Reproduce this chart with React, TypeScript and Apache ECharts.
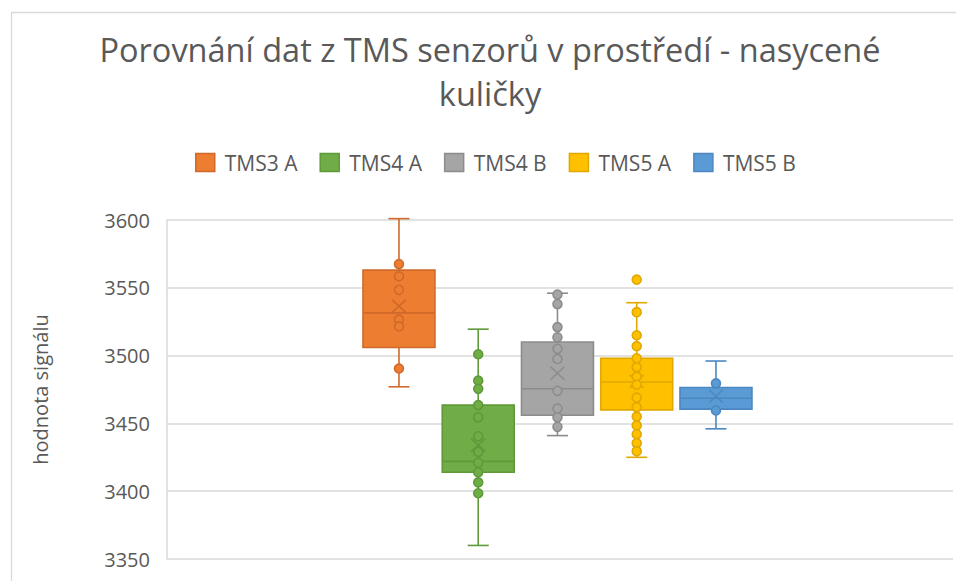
import React, { useEffect, useRef } from "react";
import * as echarts from "echarts";

const seriesNames = ["TMS3 A", "TMS4 A", "TMS4 B", "TMS5 A", "TMS5 B"];
const fillColors = ["#ED7D31", "#70AD47", "#A5A5A5", "#FFC000", "#5B9BD5"];
const darkColors = ["#D0692A", "#5E9A3A", "#8C8C8C", "#E0A800", "#4B87C1"];

// [min, Q1, median, Q3, max]
const boxStats = [
  [3477, 3506, 3531.5, 3563, 3601],
  [3360, 3414, 3422, 3463.5, 3519.5],
  [3441, 3456, 3475.5, 3510, 3546],
  [3425, 3460, 3480.5, 3498, 3539],
  [3446, 3460.5, 3468.5, 3476.5, 3496],
];
const means = [3536.5, 3434, 3487, 3481, 3470];

// visible inner points and outliers
const pointsTMS3A = [3567.5, 3558.5, 3548.5, 3526.5, 3521.5, 3490.5];
const pointsTMS4A = [3501, 3481.5, 3475.5, 3463.5, 3454.5, 3440.5, 3429, 3421, 3414, 3406.5, 3398.5];
const pointsTMS4B = [3545, 3538, 3521, 3513.5, 3505, 3497.5, 3474, 3461, 3454.5, 3447.5];
const pointsTMS5A = [3556, 3532, 3515, 3507, 3498, 3491.5, 3484.5, 3478.5, 3469, 3462, 3455, 3448.5, 3442, 3435.5, 3429.5];
const pointsTMS5B = [3479.5, 3459.5];
const pointSets = [pointsTMS3A, pointsTMS4A, pointsTMS4B, pointsTMS5A, pointsTMS5B];

const yTicks = { min: 3350, max: 3600, interval: 50 };
const titleText = "Porovnání dat z TMS senzorů v prostředí - nasycené\nkuličky";
const yAxisName = "hodnota signálu";

const BOX_W = 0.908;
const FONT = "'Open Sans', 'Noto Sans', sans-serif";
const TEXT_COLOR = "#595959";

export default function App() {
  const ref = useRef<HTMLDivElement>(null);

  useEffect(() => {
    document.body.style.margin = "0";
    if (!ref.current) return;
    const chart = echarts.init(ref.current, null, { renderer: "svg" });

    const boxSeries = seriesNames.map((name, i) => ({
      name,
      type: "custom",
      z: 2,
      encode: { x: 0, y: [1, 2, 3, 4, 5, 6] },
      data: [[i, ...boxStats[i], means[i]]],
      renderItem: (params: any, api: any) => {
        const x = api.value(0);
        const pMin = api.coord([x, api.value(1)]);
        const pQ1 = api.coord([x, api.value(2)]);
        const pMed = api.coord([x, api.value(3)]);
        const pQ3 = api.coord([x, api.value(4)]);
        const pMax = api.coord([x, api.value(5)]);
        const pMean = api.coord([x, api.value(6)]);
        const half = api.size([BOX_W, 0])[0] / 2;
        const cx = pMax[0];
        const cap = 10.5;
        const stroke = darkColors[i];
        const ls = { stroke, lineWidth: 1.6, fill: "none" };
        return {
          type: "group",
          children: [
            { type: "line", shape: { x1: cx, y1: pMax[1], x2: cx, y2: pQ3[1] }, style: ls },
            { type: "line", shape: { x1: cx, y1: pQ1[1], x2: cx, y2: pMin[1] }, style: ls },
            { type: "line", shape: { x1: cx - cap, y1: pMax[1], x2: cx + cap, y2: pMax[1] }, style: ls },
            { type: "line", shape: { x1: cx - cap, y1: pMin[1], x2: cx + cap, y2: pMin[1] }, style: ls },
            {
              type: "rect",
              shape: { x: cx - half, y: pQ3[1], width: half * 2, height: pQ1[1] - pQ3[1] },
              style: { fill: fillColors[i], stroke, lineWidth: 1.6 },
            },
            { type: "line", shape: { x1: cx - half, y1: pMed[1], x2: cx + half, y2: pMed[1] }, style: ls },
            { type: "line", z2: 20, shape: { x1: cx - 7, y1: pMean[1] - 6.5, x2: cx + 7, y2: pMean[1] + 6.5 }, style: ls },
            { type: "line", z2: 20, shape: { x1: cx - 7, y1: pMean[1] + 6.5, x2: cx + 7, y2: pMean[1] - 6.5 }, style: ls },
          ],
        };
      },
    }));

    const pointSeries = seriesNames.map((name, i) => ({
      name,
      type: "scatter",
      z: 3,
      symbol: "circle",
      symbolSize: 9,
      data: pointSets[i].map((v) => [i, v]),
      itemStyle: { color: fillColors[i], borderColor: darkColors[i], borderWidth: 1.6, opacity: 1 },
      emphasis: { disabled: true },
    }));

    chart.setOption({
      animation: false,
      backgroundColor: "#ffffff",
      title: {
        text: titleText,
        left: 490,
        textAlign: "center",
        top: 27,
        padding: 0,
        textStyle: {
          fontFamily: FONT,
          fontSize: 32.5,
          fontWeight: "normal",
          color: TEXT_COLOR,
          lineHeight: 44,
        },
      },
      legend: {
        left: 195,
        top: 152,
        padding: 0,
        itemWidth: 19,
        itemHeight: 18,
        itemGap: 22,
        textStyle: { fontFamily: FONT, fontSize: 21, color: TEXT_COLOR, lineHeight: 18, padding: [0, 0, 0, 5] },
        data: seriesNames.map((name, i) => ({
          name,
          icon: "rect",
          itemStyle: { color: fillColors[i], borderColor: darkColors[i], borderWidth: 1.5 },
        })),
      },
      graphic: [
        {
          type: "rect",
          z: -10,
          silent: true,
          shape: { x: 11.5, y: 12.5, width: 2000, height: 2000 },
          style: { fill: "none", stroke: "#D9D9D9", lineWidth: 1.3 },
        },
      ],
      grid: { left: 167, top: 220, right: 3, bottom: 22, containLabel: false },
      xAxis: {
        type: "value",
        show: false,
        min: -2.927,
        max: 6.991,
        splitLine: { show: false },
      },
      yAxis: {
        type: "value",
        min: yTicks.min,
        max: yTicks.max,
        interval: yTicks.interval,
        name: yAxisName,
        nameLocation: "middle",
        nameGap: 117,
        nameTextStyle: { fontFamily: FONT, fontSize: 20, color: TEXT_COLOR },
        axisLine: { show: true, onZero: false, lineStyle: { color: "#D9D9D9", width: 1.5 } },
        axisTick: { show: false },
        axisLabel: {
          fontFamily: FONT,
          fontSize: 20,
          color: TEXT_COLOR,
          margin: 17,
          formatter: (v: number) => String(v),
        },
        splitLine: { show: true, lineStyle: { color: "#D9D9D9", width: 1.5 } },
      },
      series: [...boxSeries, ...pointSeries],
    });

    return () => {
      chart.dispose();
    };
  }, []);

  return (
    <div
      ref={ref}
      style={{ position: "fixed", left: 0, top: 0, width: 956, height: 581 }}
    />
  );
}
